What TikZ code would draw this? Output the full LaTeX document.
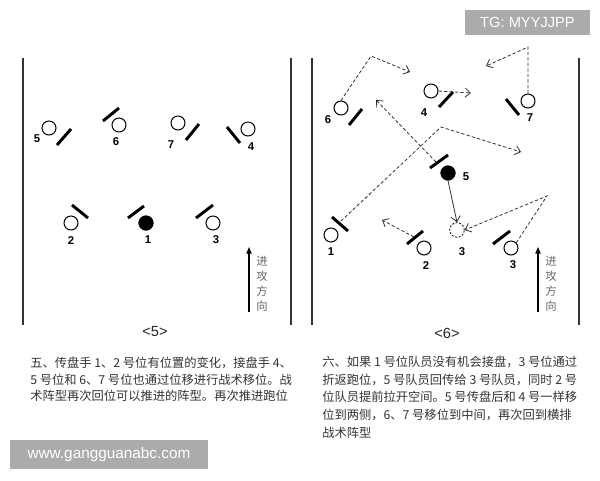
\documentclass[tikz,border=0pt]{standalone}
\usepackage{fontspec}
\setmainfont{Liberation Sans}
\newfontfamily\cjk{Noto Sans CJK SC}
\usetikzlibrary{arrows.meta}
\begin{document}
\begin{tikzpicture}[x=0.75pt,y=-0.75pt,
  pl/.style={circle,draw,line width=0.75pt,minimum size=10.5pt,inner sep=0pt},
  ball/.style={circle,fill,draw,minimum size=11pt,inner sep=0pt},
  ghost/.style={circle,draw,dashed,dash pattern=on 1.5pt off 1.2pt,line width=0.6pt,minimum size=11pt,inner sep=0pt},
  bar/.style={line width=2.2pt},
  num/.style={font=\fontsize{8.5}{9}\selectfont\bfseries},
  side/.style={line width=1.5pt,draw=black!80},
  mv/.style={dash pattern=on 2.5pt off 1.6pt,line width=0.6pt,draw=black!80},
  tip/.style={-{Straight Barb[length=4pt,width=7pt]}},
  pass/.style={line width=0.6pt,draw=black!80,-{Straight Barb[length=4pt,width=7pt]}},
  dir/.style={line width=0.8pt,-{Triangle[length=5pt,width=4pt]}},
  dirtxt/.style={font=\cjk\fontsize{8.5}{11.25}\selectfont,text=black!60,align=center,inner sep=0pt},
  captxt/.style={font=\fontsize{11}{12}\selectfont,text=black!85},
  para/.style={font=\cjk\fontsize{9.2}{11}\selectfont,text=black!80,anchor=west,inner sep=0pt},
  wm/.style={fill=black!33,text=white,inner sep=0pt}]
\useasboundingbox (0,0) rectangle (600,480);

% ---------- watermark TG ----------
\node[wm,minimum width=93.75pt,minimum height=18.75pt,font=\fontsize{11}{12}\selectfont] (tg) at (527.5,22.5) {TG: MYYJJPP};

% ---------- panel 5 ----------
\draw[side] (23,58) coordinate (la) -- (23,325) coordinate (lb);
\draw[side] (291,58) coordinate (lc) -- (291,325) coordinate (ld);

\node[pl] (a5) at (49,128) {};
\node[num] (a5l) at (37,139) {5};
\draw[bar] (57,145) -- (71,129);
\node[pl] (a6) at (119,125) {};
\node[num] (a6l) at (116,142) {6};
\draw[bar] (103,121) -- (119,108);
\node[pl] (a7) at (178,123) {};
\node[num] (a7l) at (171,145) {7};
\draw[bar] (186,140) -- (199,124);
\node[pl] (a4) at (248,129) {};
\node[num] (a4l) at (251,147) {4};
\draw[bar] (227,127) -- (240,143);
\node[pl] (a2) at (71,223) {};
\node[num] (a2l) at (71,241) {2};
\draw[bar] (72,205) -- (88,218);
\node[ball] (a1) at (146,223) {};
\node[num] (a1l) at (148,240) {1};
\draw[bar] (128,218) -- (144,206);
\node[pl] (a3) at (213,223) {};
\node[num] (a3l) at (216,240) {3};
\draw[bar] (196,218) -- (213,205);

\coordinate (ad0) at (249,312);
\coordinate (ad1) at (249,247);
\draw[dir] (ad0) -- (ad1);
\node[dirtxt] (adt) at (262,284) {进\\攻\\方\\向};
\node[captxt] (c5) at (155,332) {<5>};

% ---------- panel 6 ----------
\draw[side] (312,58) coordinate (ra) -- (312,325) coordinate (rb);
\draw[side] (579,58) coordinate (rc) -- (579,325) coordinate (rd);

\node[pl] (b6) at (341,108) {};
\node[num] (b6l) at (328,120) {6};
\draw[bar] (349,125) -- (362,109);
\node[pl] (b4) at (431,91) {};
\node[num] (b4l) at (424,113) {4};
\draw[bar] (439,107) -- (453,92);
\node[pl] (b7) at (528,101) {};
\node[num] (b7l) at (530,118) {7};
\draw[bar] (506,99) -- (519,115);
\node[ball] (b5) at (448,173) {};
\node[num] (b5l) at (466,177) {5};
\draw[bar] (430,168) -- (448,155);
\node[ghost] (g3) at (457,230) {};
\node[num] (g3l) at (462,252) {3};
\node[pl] (b1) at (331,235) {};
\node[num] (b1l) at (331,252) {1};
\draw[bar] (332,217) -- (348,231);
\node[pl] (b2) at (424,248) {};
\node[num] (b2l) at (426,266) {2};
\draw[bar] (407,244) -- (423,231);
\node[pl] (b3) at (511,248) {};
\node[num] (b3l) at (513,265) {3};
\draw[bar] (493,244) -- (510,231);

% movement paths
\coordinate (p6a) at (371,56);
\coordinate (p6b) at (410,72);
\draw[mv,tip] (b6.north) -- (p6a) -- (p6b);
\coordinate (p4b) at (471,93);
\draw[mv,tip] (b4.east) -- (p4b);
\coordinate (p7a) at (528,47);
\coordinate (p7b) at (486,66);
\draw[mv,tip] (b7.north) -- (p7a) -- (p7b);
\coordinate (p5s) at (436,162);
\coordinate (p5b) at (376,100);
\draw[mv,tip] (p5s) -- (p5b);
\coordinate (p1s) at (341,221);
\coordinate (p1a) at (441,127);
\coordinate (p1b) at (521,152);
\draw[mv,tip] (p1s) -- (p1a) -- (p1b);
\coordinate (p2s) at (414,237);
\coordinate (p2b) at (382,220);
\draw[mv,tip] (p2s) -- (p2b);
\coordinate (p3a) at (547,196);
\draw[mv,tip] (b3.north east) -- (p3a) -- (g3.east);
\draw[pass] (b5.south) -- (g3.north);

\coordinate (bd0) at (538,312);
\coordinate (bd1) at (538,247);
\draw[dir] (bd0) -- (bd1);
\node[dirtxt] (bdt) at (551,284) {进\\攻\\方\\向};
\node[captxt] (c6) at (447,333) {<6>};

% ---------- text ----------
\node[para] (t1) at (30,363) {五、传盘手 1、2 号位有位置的变化，接盘手 4、};
\node[para] (t2) at (30,380) {5 号位和 6、7 号位也通过位移进行战术移位。战};
\node[para] (t3) at (30,396) {术阵型再次回位可以推进的阵型。再次推进跑位};

\node[para] (u1) at (322,362) {六、如果 1 号位队员没有机会接盘，3 号位通过};
\node[para] (u2) at (322,380) {折返跑位，5 号队员回传给 3 号队员，同时 2 号};
\node[para] (u3) at (322,397) {位队员提前拉开空间。5 号传盘后和 4 号一样移};
\node[para] (u4) at (322,415) {位到两侧，6、7 号移位到中间，再次回到横排};
\node[para] (u5) at (322,433) {战术阵型};

% ---------- watermark site ----------
\node[wm,minimum width=148.5pt,minimum height=22pt,font=\fontsize{11.5}{12}\selectfont] (site) at (109,454.5) {www.gangguanabc.com};
\end{tikzpicture}
\end{document}
